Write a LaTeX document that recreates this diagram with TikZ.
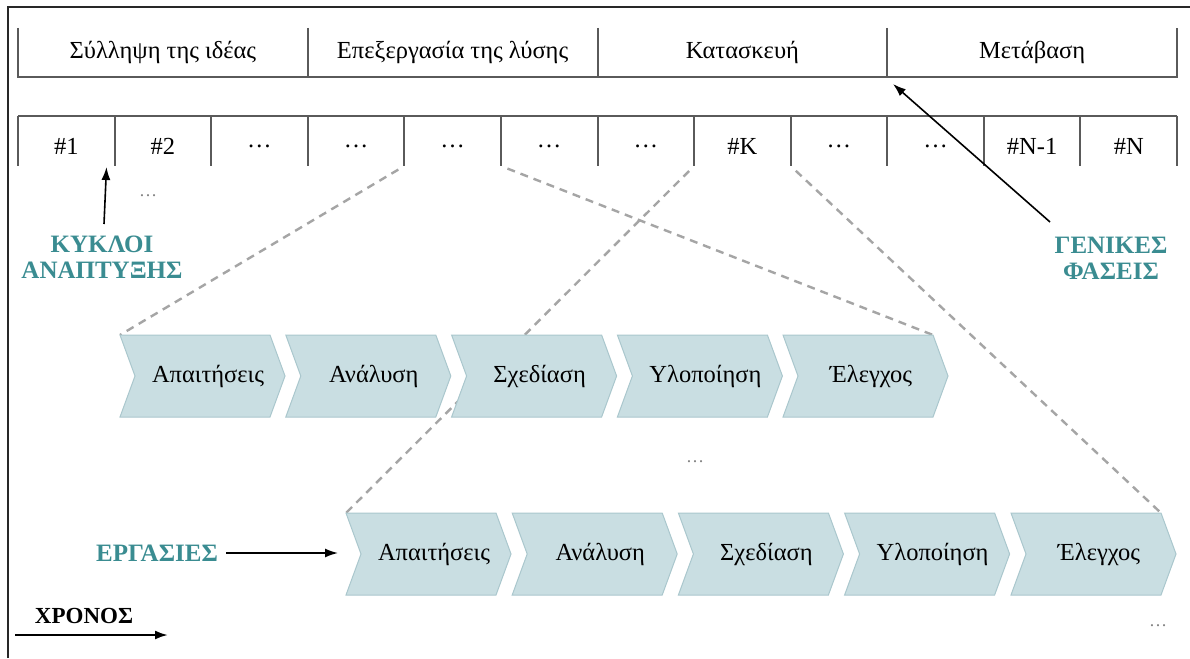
\documentclass[tikz,border=0pt]{standalone}
\usepackage{fontspec}
\setmainfont{Liberation Serif}
\usetikzlibrary{arrows.meta}

\definecolor{labelteal}{RGB}{58,140,145}
\definecolor{chevfill}{RGB}{201,222,226}
\definecolor{chevline}{RGB}{170,199,205}
\definecolor{guidegray}{RGB}{165,165,165}
\definecolor{barline}{RGB}{90,90,90}
\definecolor{framecol}{RGB}{40,40,40}
\definecolor{dotgray}{RGB}{130,130,130}

% one chevron of the task flow: name, left edge, top edge, label
\newcommand\taskchevron[4]{%
  \fill[fill=chevfill, draw=chevline, line width=1pt]
    (#2,#3) -- ({#2+150},#3) -- ({#2+165},{#3+41}) -- ({#2+150},{#3+82})
    -- (#2,{#3+82}) -- ({#2+15},{#3+41}) -- cycle;
  \node[lbl] (#1) at ({#2+88},{#3+41}) {#4};
}

\begin{document}
\begin{tikzpicture}[x=1pt,y=-1pt,
  bar/.style={draw=barline, line width=2pt},
  lbl/.style={font=\fontsize{24.5}{28}\selectfont, inner sep=0pt},
  tag/.style={font=\fontsize{25}{26}\selectfont\bfseries, text=labelteal, align=center, inner sep=0pt},
  etc/.style={font=\fontsize{18}{20}\selectfont, text=dotgray, inner sep=0pt},
  guide/.style={draw=guidegray, line width=2.4pt, dash pattern=on 8pt off 6pt, shorten <=7pt},
  pointer/.style={draw=black, line width=1.6pt, -{Latex[length=13pt,width=9pt]}}]

\useasboundingbox (0,0) rectangle (1190,658);
\fill[white] (0,0) rectangle (1190,658);

% outer frame
\draw[framecol, line width=2pt] (8,658) -- (8,7.5) -- (1190,7.5);

% general phases bar
\draw[bar] (18,28) -- (18,77) -- (1177,77) -- (1177,28);
\foreach \x in {307.75,597.5,887.25} \draw[bar] (\x,28) -- (\x,77);
\node[lbl] (ph1) at (162.9,52) {Σύλληψη της ιδέας};
\node[lbl] (ph2) at (452.6,52) {Επεξεργασία της λύσης};
\node[lbl] (ph3) at (742.4,52) {Κατασκευή};
\node[lbl] (ph4) at (1032.1,52) {Μετάβαση};

% development cycles bar
\draw[bar] (18,116) -- (1177,116);
\foreach \i in {0,...,12} {
  \coordinate (s\i) at ({18+96.583*\i},166);
  \draw[bar] ({18+96.583*\i},116) -- (s\i);
}
\node[lbl] (c1)  at ({18+96.583*0.5},146)  {\#1};
\node[lbl] (c2)  at ({18+96.583*1.5},146)  {\#2};
\node[lbl] (c3)  at ({18+96.583*2.5},146)  {…};
\node[lbl] (c4)  at ({18+96.583*3.5},146)  {…};
\node[lbl] (c5)  at ({18+96.583*4.5},146)  {…};
\node[lbl] (c6)  at ({18+96.583*5.5},146)  {…};
\node[lbl] (c7)  at ({18+96.583*6.5},146)  {…};
\node[lbl] (c8)  at ({18+96.583*7.5},146)  {\#K};
\node[lbl] (c9)  at ({18+96.583*8.5},146)  {…};
\node[lbl] (c10) at ({18+96.583*9.5},146)  {…};
\node[lbl] (c11) at ({18+96.583*10.5},146) {\#N-1};
\node[lbl] (c12) at ({18+96.583*11.5},146) {\#N};

% corners of the chevrons that the zoom guides reach
\coordinate (r1a-nw) at (120,335);
\coordinate (r1e-ne) at ({783+150},335);
\coordinate (r2a-nw) at (346,513);
\coordinate (r2e-ne) at ({1011+150},513);

% zoom guides from the cycles down to the task rows
\draw[guide] (s4) -- (r1a-nw);
\draw[guide] (s5) -- (r1e-ne);
\draw[guide] (s7) -- (r2a-nw);
\draw[guide] (s8) -- (r2e-ne);

% first task row
\taskchevron{r1a}{120}{335}{Απαιτήσεις}
\taskchevron{r1b}{285.8}{335}{Ανάλυση}
\taskchevron{r1c}{451.6}{335}{Σχεδίαση}
\taskchevron{r1d}{617.4}{335}{Υλοποίηση}
\taskchevron{r1e}{783}{335}{Έλεγχος}

% second task row
\taskchevron{r2a}{346}{513}{Απαιτήσεις}
\taskchevron{r2b}{512.2}{513}{Ανάλυση}
\taskchevron{r2c}{678.4}{513}{Σχεδίαση}
\taskchevron{r2d}{844.6}{513}{Υλοποίηση}
\taskchevron{r2e}{1011}{513}{Έλεγχος}

% continuation marks
\node[etc] (more1) at (148,196) {…};
\node[etc] (more2) at (695,462) {…};
\node[etc] (more3) at (1158,626) {…};

% side labels
\node[tag] (kyk) at (102,257.5) {ΚΥΚΛΟΙ\\ΑΝΑΠΤΥΞΗΣ};
\coordinate (kykTail) at (104,224);
\coordinate (kykHead) at (106.5,167);
\draw[pointer] (kykTail) -- (kykHead);

\node[tag] (gen) at (1111,258) {ΓΕΝΙΚΕΣ\\ΦΑΣΕΙΣ};
\coordinate (genTail) at (1050,222);
\coordinate (genHead) at (893,84);
\draw[pointer] (genTail) -- (genHead);

\node[tag] (erg) at (157,553) {ΕΡΓΑΣΙΕΣ};
\coordinate (ergHead) at (338,553);
\draw[pointer, shorten <=8pt] (erg.east) -- (ergHead);

\node[font=\fontsize{23}{26}\selectfont\bfseries, inner sep=0pt] (time) at (84,616) {ΧΡΟΝΟΣ};
\coordinate (timeTail) at (15,635);
\coordinate (timeHead) at (168,635);
\draw[pointer, line width=2.2pt] (timeTail) -- (timeHead);

\end{tikzpicture}
\end{document}
